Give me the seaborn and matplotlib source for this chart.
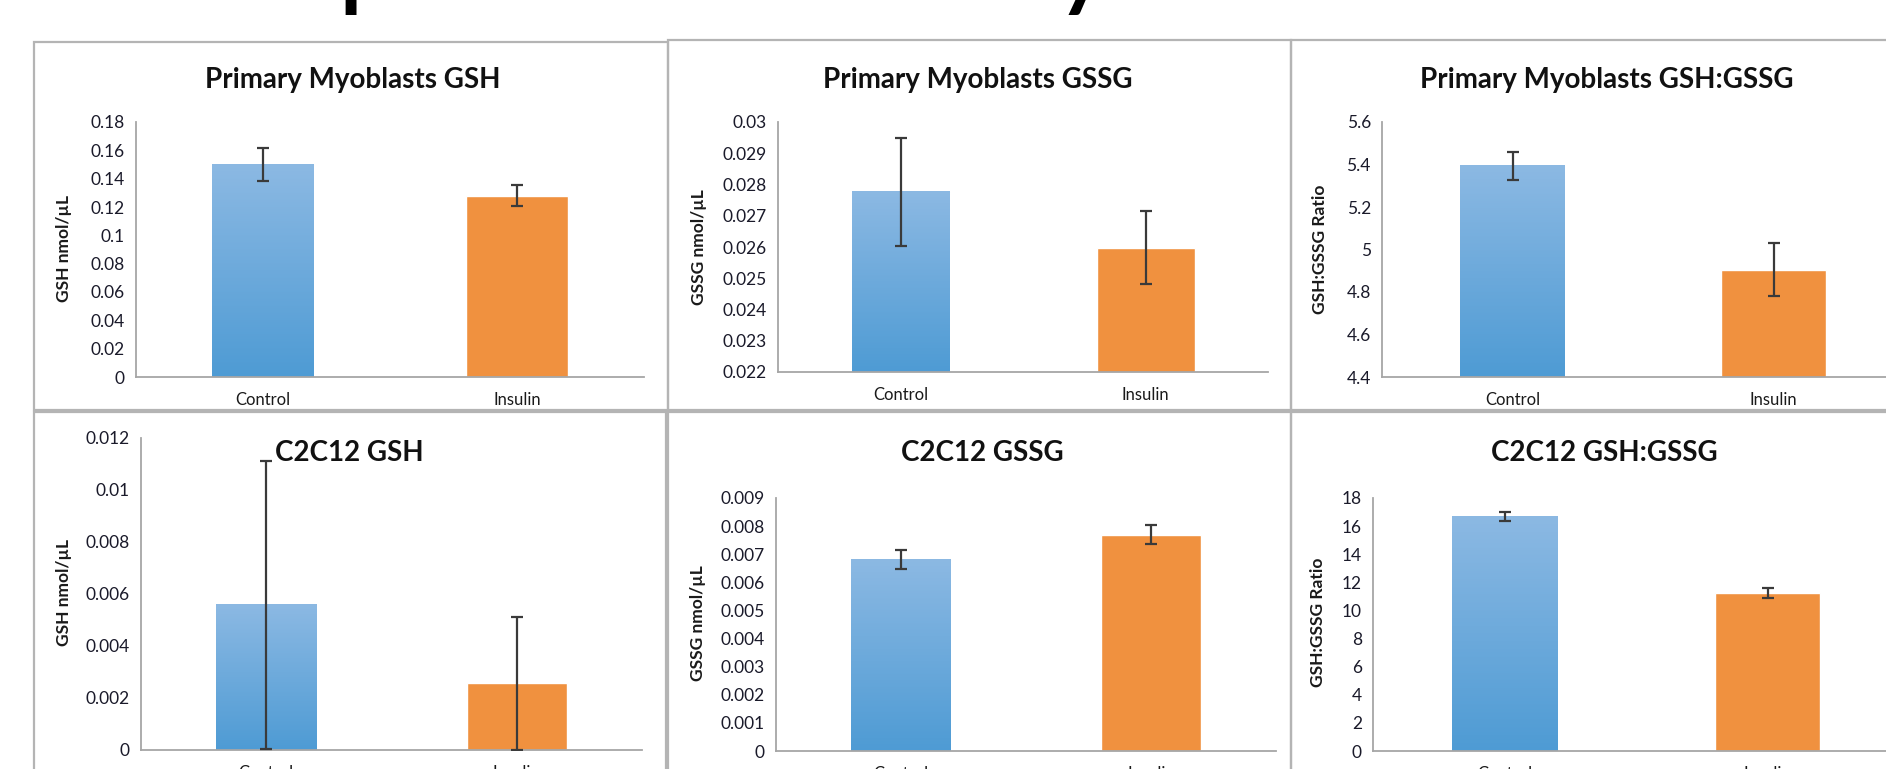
import numpy as np
import pandas as pd
import matplotlib
matplotlib.use("Agg")
import matplotlib.pyplot as plt
import seaborn as sns
from matplotlib.colors import LinearSegmentedColormap
from matplotlib.patches import Rectangle
from matplotlib.ticker import FuncFormatter, MultipleLocator

# Dados
categorias = ["Control", "Insulin"]

pm_gsh = [0.150, 0.128]
pm_gsh_err = [0.0113, 0.0074]
pm_gssg = [0.02777, 0.02598]
pm_gssg_err = [0.00173, 0.00117]
pm_ratio = [5.393, 4.905]
pm_ratio_err = [0.065, 0.124]

c2_gsh = [0.00558, 0.00256]
c2_gsh_err = [0.00555, 0.00255]
c2_gssg = [0.00681, 0.00770]
c2_gssg_err = [0.00035, 0.00034]
c2_ratio = [16.65, 11.25]
c2_ratio_err = [0.32, 0.34]

titulos = ["Primary Myoblasts GSH", "Primary Myoblasts GSSG", "Primary Myoblasts GSH:GSSG",
           "C2C12 GSH", "C2C12 GSSG", "C2C12 GSH:GSSG"]
rotulos_y = ["GSH nmol/\u00b5L", "GSSG nmol/\u00b5L", "GSH:GSSG Ratio",
             "GSH nmol/\u00b5L", "GSSG nmol/\u00b5L", "GSH:GSSG Ratio"]
limites_y = [(0, 0.18, 0.02), (0.022, 0.03, 0.001), (4.4, 5.6, 0.2),
             (0, 0.012, 0.002), (0, 0.009, 0.001), (0, 18, 2)]
valores = [pm_gsh, pm_gssg, pm_ratio, c2_gsh, c2_gssg, c2_ratio]
erros = [pm_gsh_err, pm_gssg_err, pm_ratio_err, c2_gsh_err, c2_gssg_err, c2_ratio_err]

# --------------------------------------- Layout -----------------------------------------
W, H = 1886, 769
# (esquerda, topo, direita, base) em pixels
eixos_px = [(136, 122, 644, 377), (778, 122, 1268, 372), (1382, 122, 1904, 377),
            (141, 438, 642, 750), (776, 498, 1276, 751), (1373, 498, 1899, 751)]
titulos_px = [(353, 80), (978, 80), (1607, 80), (349, 453), (982, 453), (1604, 453)]
ylabel_px = [(72, 249), (707, 247), (1328, 249), (72, 592), (706, 623), (1326, 622)]
caixas_px = [(34, 42, 668, 410), (668, 40, 1291, 410), (1291, 40, 1910, 410),
             (34, 412, 666, 790), (668, 412, 1291, 790), (1291, 412, 1910, 790)]

azul_cmap = LinearSegmentedColormap.from_list("azul", ["#8cb9e3", "#4e9bd4"])
laranja = "#f0913f"
cinza = "#a6a6a6"

sns.set_style("white")
plt.rcParams["font.family"] = ["Lato", "DejaVu Sans"]

fig = plt.figure(figsize=(W / 100, H / 100), dpi=100)


def rect(l, t, r, b):
    return [l / W, 1 - b / H, (r - l) / W, (b - t) / H]


def fmt(v, pos):
    return "%g" % round(v, 6)


for i in range(6):
    ax = fig.add_axes(rect(*eixos_px[i]))
    dados = pd.DataFrame({"grupo": categorias, "valor": valores[i]})
    sns.barplot(data=dados, x="grupo", y="valor", hue="grupo",
                palette=["#6aaadd", laranja], width=0.4, errorbar=None,
                legend=False, ax=ax, saturation=1)
    y0, y1, passo = limites_y[i]
    ax.set_xlim(-0.5, 1.5)
    ax.set_ylim(y0, y1)

    # gradiente da barra Control
    barra = ax.patches[0]
    bx0, by0 = barra.get_x(), max(barra.get_y(), y0)
    bx1, by1 = bx0 + barra.get_width(), barra.get_y() + barra.get_height()
    grad = np.linspace(0, 1, 256).reshape(-1, 1)
    ax.imshow(grad, extent=[bx0, bx1, by0, by1], aspect="auto", cmap=azul_cmap,
              zorder=barra.get_zorder() + 0.1, interpolation="bilinear")
    ax.set_xlim(-0.5, 1.5)
    ax.set_ylim(y0, y1)

    ax.errorbar(x=[0, 1], y=valores[i], yerr=erros[i], fmt="none", ecolor="#3a3a3a",
                elinewidth=1.6, capsize=4.5, capthick=1.6, zorder=5)

    ax.yaxis.set_major_locator(MultipleLocator(passo))
    ax.yaxis.set_major_formatter(FuncFormatter(fmt))
    ax.set_xticks([0, 1])
    ax.set_xticks([-0.5, 0.5, 1.5], minor=True)
    ax.tick_params(axis="x", which="major", length=0, labelsize=12, pad=11, labelcolor="#1a1a1a")
    ax.tick_params(axis="x", which="minor", length=5, color=cinza, width=1.2, direction="out")
    ax.tick_params(axis="y", length=5, color=cinza, width=1.2, direction="out",
                   labelsize=12.5, labelcolor="#1a1a2a", pad=3)
    ax.set_xlabel("")
    ax.set_ylabel(rotulos_y[i], fontsize=12.5, fontweight="bold", color="#1a1a1a")
    ax.yaxis.set_label_coords(ylabel_px[i][0] / W, 1 - ylabel_px[i][1] / H,
                              transform=fig.transFigure)
    for lado in ["top", "right"]:
        ax.spines[lado].set_visible(False)
    for lado in ["left", "bottom"]:
        ax.spines[lado].set_color(cinza)
        ax.spines[lado].set_linewidth(1.3)
    ax.set_facecolor("none")

    fig.text(titulos_px[i][0] / W, 1 - titulos_px[i][1] / H, titulos[i], ha="center",
             va="center", fontsize=20, fontweight="bold", color="#111111")

# molduras dos gráficos
for (l, t, r, b) in caixas_px:
    fig.patches.append(Rectangle((l / W, 1 - b / H), (r - l) / W, (b - t) / H,
                                 transform=fig.transFigure, fill=False,
                                 edgecolor="#b4b4b4", linewidth=1.6, zorder=0))

# título do slide, cortado no topo
fig.text(-451 / W, 1 + 6 / H, "Glutathione Expression in Myoblasts", ha="left",
         va="baseline", fontsize=87, color="black")

plt.savefig("out.png", dpi=100)
